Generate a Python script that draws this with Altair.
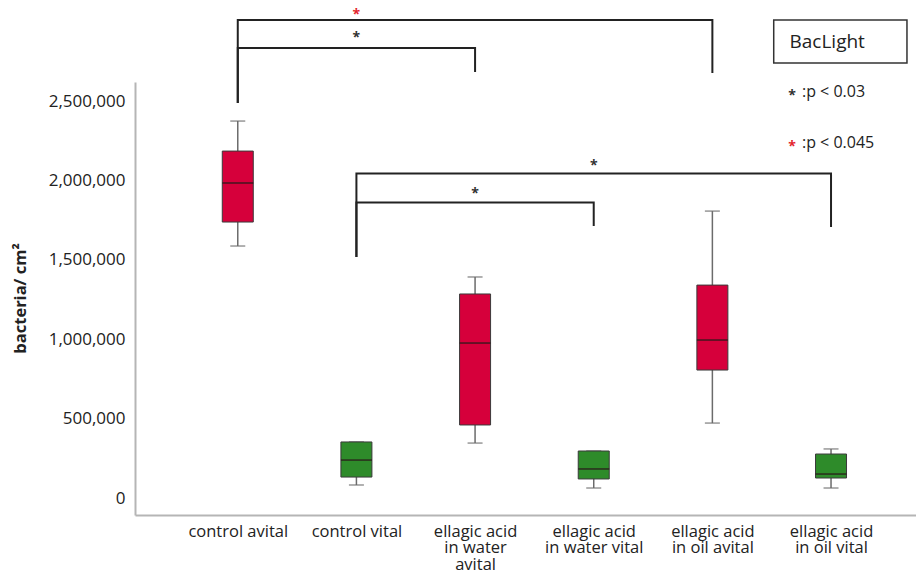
import json
import altair as alt
import pandas as pd

# ---------------- data ----------------
categories = ["control avital", "control vital", "ellagic acid in water avital",
              "ellagic acid in water vital", "ellagic acid in oil avital", "ellagic acid in oil vital"]
label_lines = [["control avital"], ["control vital"], ["ellagic acid", "in water", "avital"],
               ["ellagic acid", "in water vital"], ["ellagic acid", "in oil avital"],
               ["ellagic acid", "in oil vital"]]
groups = ["avital", "vital", "avital", "vital", "avital", "vital"]
whisker_low = [1587000, 82000, 346000, 63000, 472000, 63000]
q1 = [1738000, 132000, 460000, 120000, 806000, 126000]
median = [1984000, 239000, 976000, 183000, 995000, 151000]
q3 = [2185000, 353000, 1285000, 296000, 1341000, 277000]
whisker_high = [2374000, 353000, 1392000, 296000, 1807000, 309000]

y_ticks = [0, 500000, 1000000, 1500000, 2000000, 2500000]

# significance brackets (category index positions, y values)
bracket_from = [0, 0, 1, 1]
bracket_to = [4, 2, 5, 3]
bracket_bar = [3010000, 2834000, 2043000, 1861000]
bracket_from_end = [2487000, 2487000, 1518000, 1518000]
bracket_to_end = [2676000, 2683000, 1707000, 1713000]
star_x = [1, 1, 2, 3]
star_y = [3070000, 2928000, 1946000, 2122000]
star_color = ["#e3262e", "#333333", "#333333", "#333333"]

# legend box
legend_title = "BacLight"
legend_box = [4.517, 5.64, 2739000, 3010000]
legend_title_pos = [4.65, 2872000]
legend_star_x = 4.64
legend_text_x = 4.755
legend_rows_y = [2557000, 2235000]
legend_texts = [":p < 0.03", ":p < 0.045"]
legend_star_colors = ["#333333", "#e3262e"]

# ---------------- frames ----------------
boxes = pd.DataFrame({
    "idx": list(range(len(categories))), "category": categories, "group": groups,
    "low": whisker_low, "q1": q1, "median": median, "q3": q3, "high": whisker_high,
})

rows = []
for b in range(len(bracket_from)):
    pts = [(bracket_from[b], bracket_from_end[b]), (bracket_from[b], bracket_bar[b]),
           (bracket_to[b], bracket_bar[b]), (bracket_to[b], bracket_to_end[b])]
    for o, (px, py) in enumerate(pts):
        rows.append({"bracket": b, "order": o, "x": px, "y": py})
brackets = pd.DataFrame(rows)

stars = pd.DataFrame({"x": star_x, "y": star_y, "c": star_color, "t": ["*"] * len(star_x)})

leg_box = pd.DataFrame({"x": [legend_box[0]], "x2": [legend_box[1]],
                        "y": [legend_box[2]], "y2": [legend_box[3]]})
leg_title = pd.DataFrame({"x": [legend_title_pos[0]], "y": [legend_title_pos[1]], "t": [legend_title]})
leg_rows = pd.DataFrame({"sx": [legend_star_x] * 2, "tx": [legend_text_x] * 2, "y": legend_rows_y,
                         "t": legend_texts, "c": legend_star_colors, "s": ["*", "*"]})

FONT = "Open Sans"
x_domain = [-0.824, 5.674]
y_domain = [-107000, 2620000]

label_expr = json.dumps(label_lines) + "[datum.value]"

xscale = alt.Scale(domain=x_domain, nice=False, zero=False)
yscale = alt.Scale(domain=y_domain, nice=False, zero=False)

x_axis = alt.Axis(values=list(range(len(categories))), labelExpr=label_expr, title=None,
                  ticks=False, tickSize=0, labelPadding=8, labelFontSize=16.5, labelLineHeight=16.5,
                  labelFont=FONT, labelColor="#222222", labelOverlap=False, labelFlush=False,
                  domainColor="#b5b5b5", domainWidth=2, grid=False, labelAlign="center")
y_axis = alt.Axis(values=y_ticks, format=",.0f", title="bacteria/ cm²", ticks=False, tickSize=0,
                  labelPadding=10, labelFontSize=17, labelFont=FONT, labelColor="#222222",
                  labelOverlap=False, labelFlush=False, domainColor="#b5b5b5", domainWidth=2,
                  grid=False, titleFont=FONT, titleFontSize=16.5, titleFontWeight="bold",
                  titleColor="#222222", titleX=-115, titleY=216, titleAngle=270,
                  titleBaseline="middle", titleAlign="center")

base = alt.Chart(boxes)

whiskers = base.mark_rule(color="#6b6b6b", strokeWidth=1.5).encode(
    x=alt.X("idx:Q", scale=xscale, axis=x_axis),
    y=alt.Y("low:Q", scale=yscale, axis=y_axis),
    y2="high:Q",
)
cap_low = base.mark_tick(orient="horizontal", size=15, thickness=1.5, color="#6b6b6b").encode(
    x="idx:Q", y="low:Q")
cap_high = base.mark_tick(orient="horizontal", size=15, thickness=1.5, color="#6b6b6b").encode(
    x="idx:Q", y="high:Q")
box = base.mark_bar(size=31, stroke="#3a3a3a", strokeWidth=1).encode(
    x="idx:Q", y="q1:Q", y2="q3:Q",
    color=alt.Color("group:N", scale=alt.Scale(domain=["avital", "vital"],
                                               range=["#d6003b", "#2e8b2a"]), legend=None),
)
med = base.mark_tick(orient="horizontal", size=31, thickness=1.8, color="#2a1a1a").encode(
    x="idx:Q", y="median:Q")

bracket_lines = alt.Chart(brackets).mark_line(color="#222222", strokeWidth=2,
                                              strokeJoin="miter").encode(
    x="x:Q", y="y:Q", detail="bracket:N", order="order:Q")

star_text = alt.Chart(stars).mark_text(fontSize=14, font=FONT, baseline="alphabetic", dy=8.5,
                                       fontWeight="bold").encode(
    x="x:Q", y="y:Q", text="t:N", color=alt.Color("c:N", scale=None))

legend_rect = alt.Chart(leg_box).mark_rect(fill="white", stroke="#333333", strokeWidth=1.5).encode(
    x="x:Q", x2="x2:Q", y="y:Q", y2="y2:Q")
legend_title_text = alt.Chart(leg_title).mark_text(fontSize=19, font=FONT, align="left",
                                                   baseline="middle", color="#222222").encode(
    x="x:Q", y="y:Q", text="t:N")
legend_star_text = alt.Chart(leg_rows).mark_text(fontSize=14, font=FONT, align="left",
                                                 baseline="alphabetic", dy=8, fontWeight="bold").encode(
    x="sx:Q", y="y:Q", text="s:N", color=alt.Color("c:N", scale=None))
legend_row_text = alt.Chart(leg_rows).mark_text(fontSize=16, font=FONT, align="left",
                                                baseline="middle", color="#222222").encode(
    x="tx:Q", y="y:Q", text="t:N")

chart = alt.layer(
    whiskers, cap_low, cap_high, box, med, bracket_lines, star_text,
    legend_rect, legend_title_text, legend_star_text, legend_row_text,
).properties(
    width=781, height=433,
    autosize=alt.AutoSizeParams(type="none"),
    padding={"left": 127, "top": 74, "right": 0, "bottom": 58},
    background="white",
).configure_view(stroke=None)

chart.save("out.html", embed_options={"renderer": "svg", "actions": False})
